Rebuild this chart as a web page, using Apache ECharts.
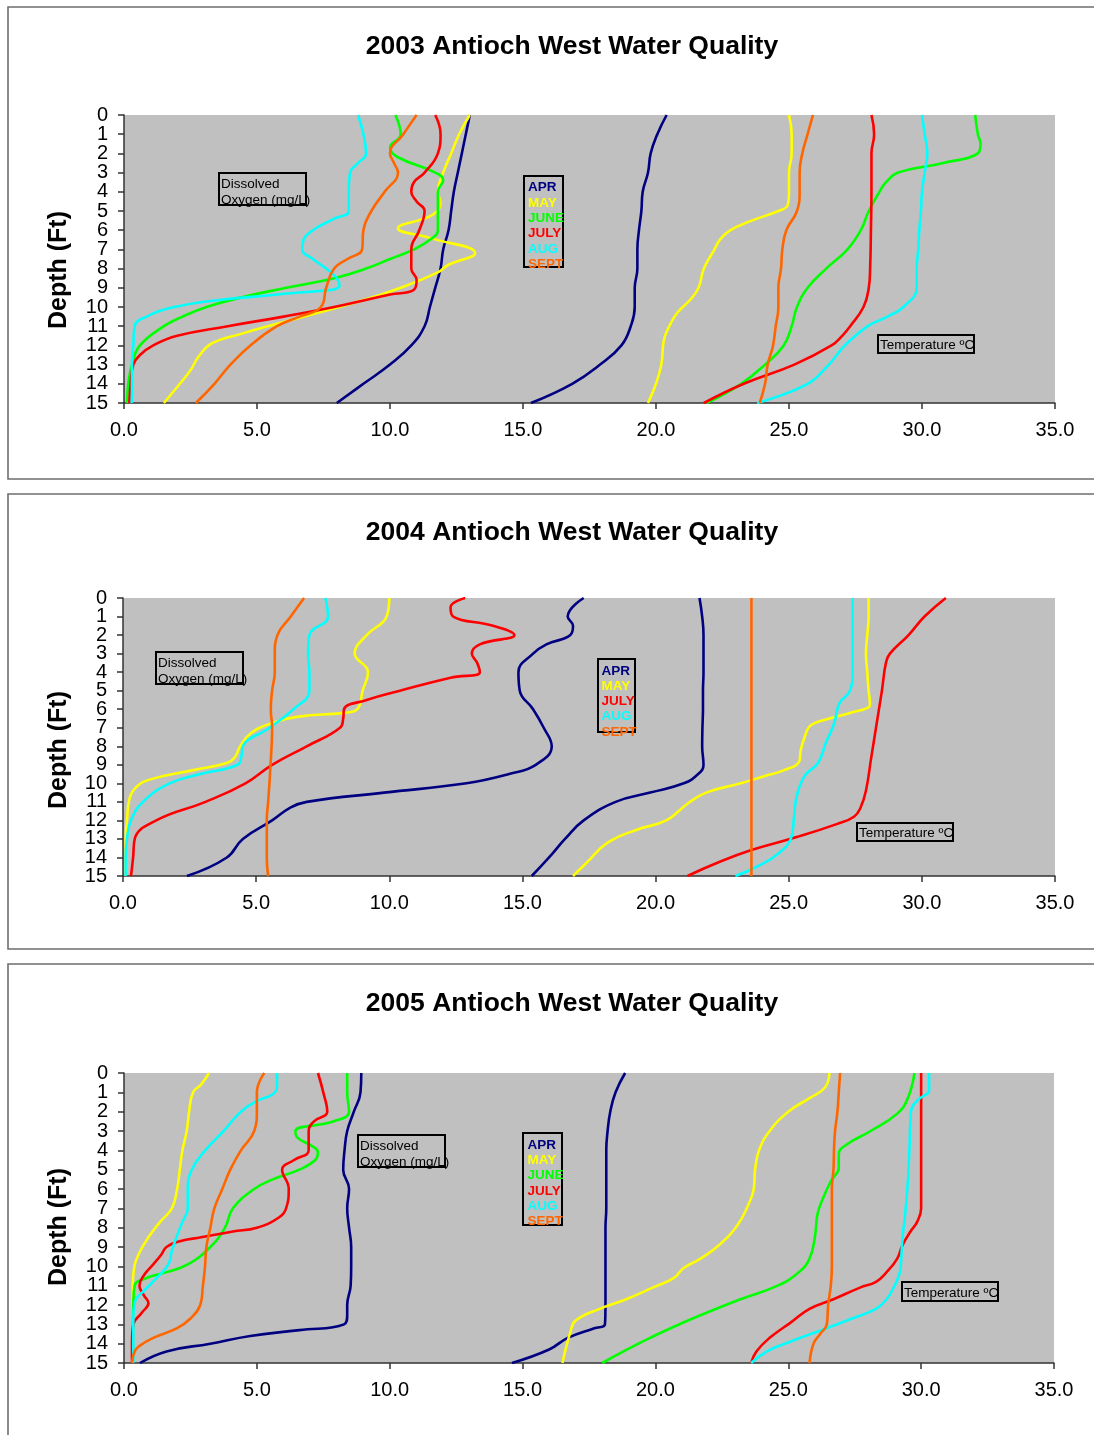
<!DOCTYPE html>
<html><head><meta charset="utf-8">
<script src="https://cdn.jsdelivr.net/npm/echarts@6/dist/echarts.min.js"></script>
<style>html,body{margin:0;padding:0;background:#fff}#c{width:1094px;height:1435px}</style>
</head><body><div id="c"></div><script>
// ---------------- DATA ----------------
const months = ['APR','MAY','JUNE','JULY','AUG','SEPT'];
const monthColors = ['#000080','#FFFF00','#00FF00','#FF0000','#00FFFF','#FF6600'];
const depthTicks = ['0','1','2','3','4','5','6','7','8','9','10','11','12','13','14','15'];
const xTicks = ['0.0','5.0','10.0','15.0','20.0','25.0','30.0','35.0'];
const titles = ['2003 Antioch West Water Quality','2004 Antioch West Water Quality','2005 Antioch West Water Quality'];

// each point: [value, depth (ft)]
// ---- 2003 Dissolved Oxygen (mg/L)
const do2003Apr = [[13.0,0],[12.85,1],[12.7,2],[12.55,3],[12.4,4],[12.3,5],[12.2,6],[12.0,7],[11.9,8],[11.7,9],[11.5,10],[11.3,11],[10.8,12],[10.0,13],[9.0,14],[8.0,15]];
const do2003May = [[13.0,0],[12.6,1],[12.3,2],[12.0,3],[11.8,4],[11.9,4.6],[11.6,5.2],[10.3,5.9],[11.5,6.4],[13.2,7.2],[12.2,7.8],[11.8,8.2],[10.4,9],[9.1,9.6],[7.3,10.3],[5.4,11],[4.4,11.4],[3.3,11.9],[2.8,12.6],[2.5,13.3],[2.1,14],[1.5,15]];
const do2003Jun = [[10.2,0],[10.4,1],[10.0,1.7],[10.3,2.2],[11.7,3],[12.0,3.4],[11.8,4],[11.8,5],[11.8,6],[11.5,6.5],[10.9,7],[10.0,7.5],[9.1,8],[7.9,8.5],[6.1,9],[4.4,9.5],[3.1,10],[2.2,10.5],[1.5,11],[0.6,12],[0.3,13],[0.16,14],[0.12,15]];
const do2003Jul = [[11.7,0],[11.9,1],[11.8,2],[11.3,3],[10.9,3.5],[10.8,4],[11.0,4.5],[11.3,5],[11.1,6],[10.8,7],[10.8,8],[11.0,8.6],[10.9,9.1],[10.0,9.35],[7.9,10],[6.0,10.5],[3.9,11],[2.0,11.5],[1.1,12],[0.6,12.5],[0.35,13],[0.25,14],[0.2,15]];
const do2003Aug = [[8.8,0],[9.0,1],[9.1,2],[8.8,2.5],[8.5,3],[8.45,4],[8.45,5],[7.9,5.4],[7.1,6],[6.75,6.5],[6.7,7],[7.1,7.5],[7.6,8],[8.0,8.5],[8.1,8.9],[6.1,9.3],[3.5,9.65],[1.9,10],[0.85,10.5],[0.4,11],[0.35,12],[0.3,13],[0.3,14],[0.29,15]];
const do2003Sep = [[11.0,0],[10.5,1],[10.0,2],[10.15,2.5],[10.3,3],[9.8,4],[9.3,5],[9.0,6],[8.95,7],[8.4,7.5],[7.9,8],[7.6,9],[7.4,10],[6.6,10.5],[5.75,11],[4.75,12],[4.0,13],[3.4,14],[2.7,15]];
// ---- 2003 Temperature (C)
const t2003Apr = [[20.4,0],[20.05,1],[19.8,2],[19.7,3],[19.5,4],[19.45,5],[19.36,6],[19.3,7],[19.3,8],[19.2,9],[19.2,10],[19.05,11],[18.7,12],[17.9,13],[16.85,14],[15.3,15]];
const t2003May = [[25.0,0],[25.1,1],[25.1,2],[25.0,3],[25.0,4],[24.95,4.7],[24.6,5],[23.6,5.5],[22.8,6],[22.4,6.5],[22.2,7],[21.8,8],[21.6,9],[21.3,9.6],[20.8,10.3],[20.5,11],[20.3,11.7],[20.2,13],[20.0,14],[19.7,15]];
const t2003Jun = [[32.0,0],[32.1,1],[32.2,1.5],[32.1,2],[30.8,2.5],[29.1,3],[28.65,3.5],[28.4,4],[28.0,5],[27.7,6],[27.2,7],[26.4,8],[25.7,9],[25.3,10],[25.1,11],[24.8,12],[24.1,13],[23.2,14],[21.9,15]];
const t2003Jul = [[28.1,0],[28.2,1],[28.1,2],[28.1,4],[28.08,6],[28.05,8],[28.0,9],[27.8,10],[27.3,11],[27.0,11.5],[26.6,12],[25.2,13],[23.3,14],[21.8,15]];
const t2003Aug = [[30.0,0],[30.1,1],[30.2,2],[30.1,3],[30.0,4],[29.96,5],[29.9,6],[29.86,7],[29.8,8],[29.8,9],[29.3,10],[28.7,10.5],[27.96,11],[27.1,12],[26.8,12.5],[26.5,13],[25.7,14],[23.8,15]];
const t2003Sep = [[25.9,0],[25.7,1],[25.5,2],[25.4,3],[25.4,4],[25.3,5],[24.9,6],[24.75,7],[24.7,8],[24.6,9],[24.6,10],[24.5,11],[24.4,12],[24.2,13],[24.1,14],[23.9,15]];

// ---- 2004 Dissolved Oxygen (mg/L) (no June)
const do2004Apr = [[17.3,0],[16.7,1],[16.9,1.5],[16.8,2],[15.9,2.5],[15.4,3],[14.85,4],[14.9,5],[15.4,6],[15.8,7],[16.1,8],[15.5,9],[14.5,9.5],[12.9,10],[9.8,10.5],[6.9,11],[6.3,11.3],[5.6,12],[4.5,13],[3.9,14],[2.4,15]];
const do2004May = [[10.0,0],[9.9,1],[9.15,2],[8.7,3],[9.2,4],[9.0,5],[8.8,6],[8.3,6.2],[6.6,6.4],[5.5,6.8],[4.8,7.3],[4.4,8],[4.2,8.6],[3.9,8.9],[2.6,9.3],[1.0,9.8],[0.5,10.2],[0.25,10.8],[0.15,12],[0.1,13],[0.1,15]];
const do2004Jul = [[12.85,0],[12.3,0.5],[12.4,1],[13.9,1.5],[14.7,2],[13.4,2.5],[13.1,3],[13.3,3.5],[13.4,4],[12.3,4.3],[10.4,5],[9.15,5.5],[8.3,6],[8.27,6.5],[8.15,7],[6.9,8],[5.6,9],[4.6,10],[3.1,11],[1.25,12],[0.44,13],[0.38,14],[0.3,15]];
const do2004Aug = [[7.6,0],[7.7,1],[7.0,2],[6.95,3],[7.0,4],[7.0,5],[6.4,6],[5.5,7],[4.5,8],[4.45,8.5],[4.3,9],[2.9,9.5],[1.75,10],[0.75,11],[0.3,12],[0.15,13],[0.1,14],[0.1,15]];
const do2004Sep = [[6.8,0],[6.3,1],[5.8,2],[5.7,3],[5.7,4],[5.6,5],[5.55,6],[5.6,7],[5.58,8],[5.54,9],[5.5,10],[5.45,11],[5.4,12],[5.4,13],[5.4,14],[5.45,15]];
// ---- 2004 Temperature (C)
const t2004Apr = [[21.65,0],[21.75,1],[21.8,2],[21.8,3],[21.8,4],[21.78,5],[21.78,6],[21.76,7],[21.75,8],[21.8,9],[21.6,9.5],[21.06,10],[19.8,10.5],[18.5,11],[17.3,12],[16.6,13],[16.0,14],[15.35,15]];
const t2004May = [[28.0,0],[28.0,1],[27.95,2],[27.9,3],[27.95,4],[28.0,5],[28.05,5.7],[28.0,5.9],[27.3,6.2],[26.3,6.6],[25.8,6.9],[25.6,7.5],[25.45,8.2],[25.4,8.8],[24.8,9.3],[24.1,9.6],[23.2,10],[21.9,10.5],[21.2,11.1],[20.4,12],[19.3,12.5],[18.2,13.2],[17.4,14.3],[16.9,15]];
const t2004Jul = [[30.9,0],[30.1,1],[29.5,2],[28.8,3],[28.65,3.5],[28.5,5],[28.3,6.8],[28.1,8.6],[27.9,10.4],[27.7,11.3],[27.45,11.8],[26.8,12.2],[25.3,12.9],[23.6,13.6],[22.3,14.3],[21.2,15]];
const t2004Aug = [[27.4,0],[27.4,1],[27.4,2],[27.4,3],[27.4,4],[27.3,5],[26.9,5.7],[26.7,6.8],[26.4,7.8],[26.1,8.9],[25.6,9.6],[25.3,10.7],[25.2,11.8],[25.1,12.9],[24.6,13.8],[23.8,14.5],[23.0,15]];
const t2004Sep = [[23.6,0],[23.6,15]];

// ---- 2005 Dissolved Oxygen (mg/L)
const do2005Apr = [[8.93,0],[8.9,1],[8.65,2],[8.4,3],[8.3,4],[8.25,5],[8.47,6],[8.4,7],[8.47,8],[8.55,9],[8.55,10],[8.53,11],[8.4,12],[8.4,12.5],[8.28,13],[6.6,13.3],[4.75,13.6],[3.25,14],[1.6,14.4],[0.6,15]];
const do2005May = [[3.2,0],[2.9,0.6],[2.6,1],[2.45,2],[2.36,3],[2.2,4],[2.1,5],[2.0,6],[1.8,7],[1.36,7.7],[0.92,8.5],[0.54,9.4],[0.39,10],[0.33,11],[0.33,15]];
const do2005Jun = [[8.4,0],[8.4,1],[8.47,2],[7.9,2.5],[6.45,3],[6.5,3.3],[7.1,3.8],[7.3,4.1],[7.2,4.5],[6.6,5],[5.6,5.5],[4.9,6],[4.1,7],[3.8,8],[3.25,9],[2.4,9.9],[1.6,10.3],[0.85,10.6],[0.4,11],[0.35,12],[0.33,13],[0.33,15]];
const do2005Jul = [[7.3,0],[7.5,1],[7.65,2],[7.15,2.5],[6.95,3],[6.95,4],[6.4,4.5],[5.95,5],[6.2,6],[6.1,7],[5.8,7.5],[5.0,8],[4.1,8.2],[2.9,8.5],[2.1,8.7],[1.6,9],[1.4,9.4],[1.1,9.9],[0.73,10.5],[0.58,11],[0.75,11.5],[0.92,11.9],[0.67,12.4],[0.35,13],[0.3,14],[0.3,15]];
const do2005Aug = [[5.76,0],[5.76,0.7],[5.6,1.1],[5.0,1.45],[4.4,2],[3.75,3],[3.06,4],[2.55,5],[2.4,6],[2.4,7],[2.2,7.7],[2.0,8.4],[1.8,9.2],[1.67,9.9],[1.23,10.6],[0.73,11.3],[0.42,11.8],[0.35,12.7],[0.35,15]];
const do2005Sep = [[5.28,0],[5.0,1],[5.0,2],[4.9,3],[4.4,4],[4.0,5],[3.7,6],[3.4,7],[3.25,8],[3.1,9],[3.05,10],[2.97,11],[2.87,12],[2.5,12.7],[2.0,13.2],[1.1,13.7],[0.6,14.1],[0.4,14.4],[0.3,15]];
// ---- 2005 Temperature (C)
const t2005Apr = [[18.86,0],[18.5,1],[18.3,2],[18.2,3],[18.15,4],[18.15,5],[18.15,6],[18.15,7],[18.12,8],[18.12,9],[18.12,10],[18.12,11],[18.12,12],[18.1,13],[17.7,13.2],[16.7,13.7],[16.0,14.3],[14.6,15]];
const t2005May = [[26.55,0],[26.38,0.75],[25.8,1.3],[25.0,2],[24.3,3],[23.9,4],[23.75,5],[23.7,6],[23.5,6.8],[23.1,7.85],[22.4,8.9],[21.7,9.6],[21.05,10.1],[20.7,10.6],[19.9,11.1],[18.9,11.7],[17.9,12.2],[17.0,12.8],[16.8,13.4],[16.5,15]];
const t2005Jun = [[29.75,0],[29.5,1.3],[29.1,2.1],[28.1,3],[27.2,3.7],[26.9,4.2],[26.9,4.9],[26.6,5.6],[26.3,6.5],[26.1,7.3],[26.0,8.5],[25.8,9.6],[25.4,10.3],[24.6,11],[23.2,11.7],[21.4,12.7],[19.8,13.7],[18.8,14.4],[18.0,15]];
const t2005Jul = [[30.0,0],[30.0,3],[30.0,6],[30.0,7],[29.85,7.7],[29.6,8.2],[29.3,8.9],[29.1,9.6],[28.7,10.3],[28.3,10.8],[27.7,11.1],[26.7,11.7],[25.8,12.2],[25.1,12.9],[24.3,13.7],[23.8,14.4],[23.6,15]];
const t2005Aug = [[30.3,0],[30.3,0.9],[29.96,1.3],[29.65,1.8],[29.6,2.3],[29.56,3.9],[29.5,5.6],[29.4,7.3],[29.3,8.5],[29.25,9.6],[29.2,10.3],[29.0,11],[28.7,11.7],[28.3,12.2],[27.4,12.7],[26.45,13.2],[25.07,13.9],[24.2,14.4],[23.6,15]];
const t2005Sep = [[26.95,0],[26.9,1],[26.85,2],[26.76,3],[26.72,4],[26.7,5],[26.64,6],[26.64,8],[26.64,10],[26.6,11],[26.5,12],[26.45,13],[26.2,13.5],[25.95,14],[25.8,15]];

const charts = [
  {do:[do2003Apr,do2003May,do2003Jun,do2003Jul,do2003Aug,do2003Sep], t:[t2003Apr,t2003May,t2003Jun,t2003Jul,t2003Aug,t2003Sep], months:['APR','MAY','JUNE','JULY','AUG','SEPT']},
  {do:[do2004Apr,do2004May,null,do2004Jul,do2004Aug,do2004Sep], t:[t2004Apr,t2004May,null,t2004Jul,t2004Aug,t2004Sep], months:['APR','MAY','JULY','AUG','SEPT']},
  {do:[do2005Apr,do2005May,do2005Jun,do2005Jul,do2005Aug,do2005Sep], t:[t2005Apr,t2005May,t2005Jun,t2005Jul,t2005Aug,t2005Sep], months:['APR','MAY','JUNE','JULY','AUG','SEPT']}
];

// ---------------- LAYOUT ----------------
const FONT = '"Liberation Sans", Arial, sans-serif';
const layout = [
  {grid:{left:124,top:115,width:931,height:288}, panel:{y:7,h:472}, titleY:47, nameY:270,
   doBox:{x:219,y:173,w:87,h:32}, legBox:{x:524,y:176,w:39,h:91}, legX:528, legY0:187.5, legStep:15.4,
   tBox:{x:878,y:335,w:96,h:18}},
  {grid:{left:123,top:598,width:932,height:278}, panel:{y:494,h:455}, titleY:533, nameY:750,
   doBox:{x:156,y:652,w:87,h:32}, legBox:{x:598,y:659,w:37,h:73}, legX:601.5, legY0:671, legStep:15.25,
   tBox:{x:857,y:823,w:96,h:18}},
  {grid:{left:124,top:1073,width:930,height:290}, panel:{y:964,h:520}, titleY:1004, nameY:1227,
   doBox:{x:358,y:1135,w:87,h:32}, legBox:{x:523,y:1133,w:39,h:92}, legX:527.5, legY0:1145.5, legStep:15.1,
   tBox:{x:902,y:1282,w:96,h:19}}
];

const axisColor = '#333';
const grids=[], xAxes=[], yAxes=[], series=[], graphics=[];
charts.forEach((c, gi) => {
  const L = layout[gi];
  grids.push(Object.assign({show:true, backgroundColor:'#C0C0C0', borderWidth:0, outerBoundsMode:'none', containLabel:false}, L.grid));
  xAxes.push({gridIndex:gi, type:'value', min:0, max:35, interval:5, position:'bottom',
    axisLine:{show:true, onZero:false, lineStyle:{color:axisColor, width:1.5}},
    axisTick:{show:true, inside:false, length:6, lineStyle:{color:axisColor, width:1.5}},
    splitLine:{show:false},
    axisLabel:{show:true, interval:0, showMinLabel:true, showMaxLabel:true, margin:17, color:'#000', fontSize:20, fontFamily:FONT, formatter:v => xTicks[Math.round(v/5)]}});
  // value depth axis (data scale, line & ticks)
  yAxes.push({gridIndex:gi, type:'value', min:0, max:15, interval:1, inverse:true, position:'left',
    axisLine:{show:true, onZero:false, lineStyle:{color:axisColor, width:1.5}},
    axisTick:{show:true, inside:false, length:6, lineStyle:{color:axisColor, width:1.5}},
    splitLine:{show:false}, axisLabel:{show:false}});
  // category depth axis (tick labels only, every label shown)
  yAxes.push({gridIndex:gi, type:'category', data:depthTicks, boundaryGap:false, inverse:true, position:'left', offset:0,
    axisLine:{show:false}, axisTick:{show:false}, splitLine:{show:false},
    axisLabel:{show:true, interval:0, margin:16, color:'#000', fontSize:20, fontFamily:FONT}});
  months.forEach((m, mi) => {
    [['DO', c.do[mi]], ['Temp', c.t[mi]]].forEach(([kind, data]) => {
      if (!data) return;
      series.push({type:'line', name: m + ' ' + kind, xAxisIndex:gi, yAxisIndex:gi*2, data:data,
        smooth:0.45, symbol:'none', silent:true, animation:false,
        lineStyle:{color:monthColors[mi], width:2.6}, itemStyle:{color:monthColors[mi]}});
    });
  });
  // panel border
  graphics.push({type:'rect', shape:{x:8, y:L.panel.y, width:1100, height:L.panel.h}, style:{fill:'none', stroke:'#6e6e6e', lineWidth:1.6}, z:1});
  // title
  graphics.push({type:'text', x:572, y:L.titleY, style:{text:titles[gi], font:'bold 26.5px ' + FONT, fill:'#000', align:'center', verticalAlign:'middle', textAlign:'center', textVerticalAlign:'middle'}, z:10});
  // y axis name
  graphics.push({type:'text', x:59, y:L.nameY, rotation:Math.PI/2, style:{text:'Depth (Ft)', font:'bold 25px ' + FONT, fill:'#000', align:'center', verticalAlign:'middle', textAlign:'center', textVerticalAlign:'middle'}, z:10});
  // DO box
  const d = L.doBox;
  graphics.push({type:'rect', shape:{x:d.x, y:d.y, width:d.w, height:d.h}, style:{fill:'none', stroke:'#000', lineWidth:2}, z:20});
  graphics.push({type:'text', x:d.x+2, y:d.y+11.5, style:{text:'Dissolved', font:'13.5px ' + FONT, fill:'#000', align:'left', verticalAlign:'middle', textAlign:'left', textVerticalAlign:'middle'}, z:21});
  graphics.push({type:'text', x:d.x+2, y:d.y+27, style:{text:'Oxygen (mg/L)', font:'13.5px ' + FONT, fill:'#000', align:'left', verticalAlign:'middle', textAlign:'left', textVerticalAlign:'middle'}, z:21});
  // Temperature box
  const tb = L.tBox;
  graphics.push({type:'rect', shape:{x:tb.x, y:tb.y, width:tb.w, height:tb.h}, style:{fill:'none', stroke:'#000', lineWidth:2}, z:20});
  graphics.push({type:'text', x:tb.x+2, y:tb.y+tb.h/2+1.5, style:{text:'Temperature ºC', font:'13.5px ' + FONT, fill:'#000', align:'left', verticalAlign:'middle', textAlign:'left', textVerticalAlign:'middle'}, z:21});
  // month legend box
  const lb = L.legBox;
  graphics.push({type:'rect', shape:{x:lb.x, y:lb.y, width:lb.w, height:lb.h}, style:{fill:'none', stroke:'#000', lineWidth:2}, z:20});
  c.months.forEach((m, k) => {
    const col = monthColors[months.indexOf(m)];
    graphics.push({type:'text', x:L.legX, y:L.legY0 + k*L.legStep, style:{text:m, font:'bold 13.5px ' + FONT, fill:col, align:'left', verticalAlign:'middle', textAlign:'left', textVerticalAlign:'middle'}, z:21});
  });
});

const chart = echarts.init(document.getElementById('c'), null, {renderer:'canvas'});
chart.setOption({
  backgroundColor:'#ffffff',
  animation:false,
  grid:grids, xAxis:xAxes, yAxis:yAxes, series:series,
  graphic:{elements:graphics}
});
</script></body></html>
